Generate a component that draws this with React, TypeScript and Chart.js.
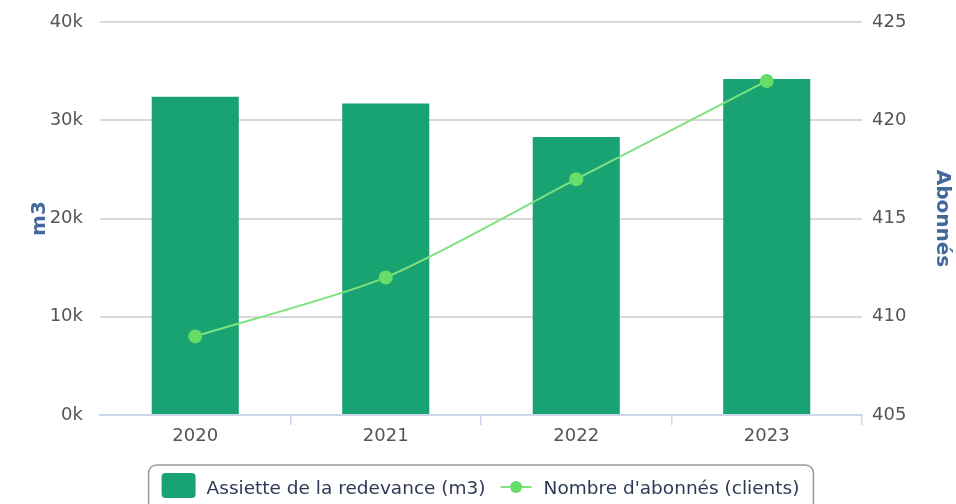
import React, { useEffect, useRef } from 'react';
import { Chart, registerables } from 'chart.js';

Chart.register(...registerables);

const years = ['2020', '2021', '2022', '2023'];
const assietteM3 = [32400, 31700, 28300, 34200];
const abonnes = [409, 412, 417, 422];
const barLabel = 'Assiette de la redevance (m3)';
const lineLabel = "Nombre d'abonnés (clients)";
const leftTitle = 'm3';
const rightTitle = 'Abonnés';

const FONT = "'DejaVu Sans', Verdana, sans-serif";
const BAR_COLOR = '#19a272';
const LINE_COLOR = '#7ee27e';
const POINT_COLOR = '#66dd66';

const legendPlugin = {
  id: 'boxedLegend',
  afterDraw(chart: any) {
    const ctx = chart.ctx;
    const ca = chart.chartArea;
    ctx.save();
    ctx.font = `18.5px ${FONT}`;
    const t1 = chart.data.datasets[0].label as string;
    const t2 = chart.data.datasets[1].label as string;
    const w1 = ctx.measureText(t1).width;
    const w2 = ctx.measureText(t2).width;
    const padL = 13, sw = 34, g1 = 11, g2 = 15, lw = 31, g3 = 12, padR = 14;
    const total = padL + sw + g1 + w1 + g2 + lw + g3 + w2 + padR;
    const cx = (ca.left + ca.right) / 2;
    const x0 = cx - total / 2;
    const top = 465;
    const midY = 489;
    ctx.beginPath();
    ctx.lineWidth = 1.5;
    ctx.strokeStyle = '#999999';
    ctx.fillStyle = '#ffffff';
    ctx.roundRect(x0, top, total, 60, 8);
    ctx.fill();
    ctx.stroke();
    let x = x0 + padL;
    ctx.beginPath();
    ctx.fillStyle = BAR_COLOR;
    ctx.roundRect(x, midY - 16, sw, 25, 4);
    ctx.fill();
    x += sw + g1;
    ctx.fillStyle = '#2e3a55';
    ctx.textBaseline = 'middle';
    ctx.textAlign = 'left';
    ctx.fillText(t1, x, midY);
    x += w1 + g2;
    ctx.beginPath();
    ctx.strokeStyle = LINE_COLOR;
    ctx.lineWidth = 2;
    ctx.moveTo(x, midY - 2);
    ctx.lineTo(x + lw, midY - 2);
    ctx.stroke();
    ctx.beginPath();
    ctx.fillStyle = POINT_COLOR;
    ctx.arc(x + lw / 2, midY - 2, 6, 0, Math.PI * 2);
    ctx.fill();
    x += lw + g3;
    ctx.fillStyle = '#2e3a55';
    ctx.fillText(t2, x, midY);
    ctx.restore();
  },
};

function noVerticalPadding(scale: any) {
  scale.paddingTop = 0;
  scale.paddingBottom = 0;
}

export default function App() {
  const ref = useRef<HTMLCanvasElement | null>(null);
  useEffect(() => {
    if (!ref.current) return;
    const chart = new Chart(ref.current, {
      data: {
        labels: years,
        datasets: [
          {
            type: 'bar',
            label: barLabel,
            data: assietteM3,
            backgroundColor: BAR_COLOR,
            borderWidth: 0,
            yAxisID: 'y',
            order: 2,
            barPercentage: 0.457,
            categoryPercentage: 1,
          },
          {
            type: 'line',
            label: lineLabel,
            data: abonnes,
            borderColor: LINE_COLOR,
            borderWidth: 2,
            pointRadius: 7,
            pointBackgroundColor: POINT_COLOR,
            pointBorderWidth: 0,
            tension: 0.25,
            yAxisID: 'y1',
            order: 1,
          },
        ],
      } as any,
      options: {
        responsive: false,
        animation: false,
        layout: { padding: { top: 22, left: 0, right: 0, bottom: 0 } },
        plugins: {
          legend: { display: false },
          tooltip: { enabled: false },
        },
        scales: {
          x: {
            offset: true,
            grid: {
              offset: true,
              drawOnChartArea: false,
              drawTicks: true,
              tickLength: 10,
              color: (c: any) => (c.index === 0 ? 'rgba(0,0,0,0)' : '#ccd6eb'),
              lineWidth: 1.5,
            },
            border: { display: true, color: '#ccd6eb', width: 2 },
            ticks: {
              color: '#555555',
              font: { family: FONT, size: 18 },
              padding: 1,
            },
            afterFit(scale: any) {
              scale.height = 89;
              scale.paddingLeft = 0;
              scale.paddingRight = 0;
            },
          },
          y: {
            position: 'left',
            min: 0,
            max: 40000,
            border: { display: false },
            grid: { color: '#d9d9d9', lineWidth: 2, drawTicks: false },
            ticks: {
              stepSize: 10000,
              padding: 17,
              color: '#555555',
              font: { family: FONT, size: 18 },
              callback: (v: any) => `${Number(v) / 1000}k`,
            },
            title: {
              display: true,
              text: leftTitle,
              color: '#45689c',
              font: { family: FONT, size: 20, weight: 'bold' },
              padding: { top: 28, bottom: 0 },
            },
            afterFit(scale: any) {
              scale.width = 100;
              noVerticalPadding(scale);
            },
          },
          y1: {
            position: 'right',
            min: 405,
            max: 425,
            border: { display: false },
            grid: { drawOnChartArea: false, drawTicks: false },
            ticks: {
              stepSize: 5,
              padding: 10,
              color: '#555555',
              font: { family: FONT, size: 18 },
            },
            title: {
              display: true,
              text: rightTitle,
              color: '#45689c',
              font: { family: FONT, size: 20, weight: 'bold' },
              padding: { top: 2, bottom: 0 },
            },
            afterFit(scale: any) {
              scale.width = 94;
              noVerticalPadding(scale);
            },
          },
        },
      } as any,
      plugins: [legendPlugin],
    });
    return () => chart.destroy();
  }, []);
  return (
    <div style={{ position: 'fixed', left: 0, top: 0, width: 956, height: 504, background: '#fff' }}>
      <canvas ref={ref} width={956} height={504} />
    </div>
  );
}
